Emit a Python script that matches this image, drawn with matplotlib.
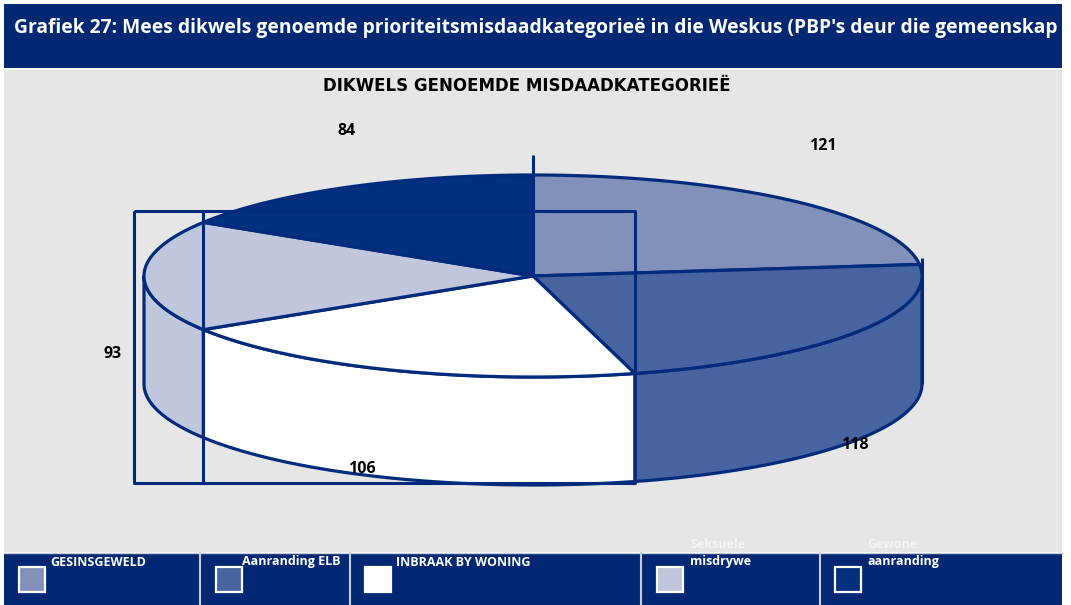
import numpy as np
import matplotlib
matplotlib.use("Agg")
import matplotlib.pyplot as plt
from matplotlib.patches import Polygon, Rectangle

# ---------------- data ----------------
categories = ["GESINSGEWELD", "Aanranding ELB", "INBRAAK BY WONING",
              "Seksuele misdrywe", "Gewone aanranding"]
values = [121, 118, 106, 93, 84]
legend_lines = [("", "GESINSGEWELD"), ("", "Aanranding ELB"),
                ("", "INBRAAK BY WONING"), ("Seksuele", "misdrywe"),
                ("Gewone", "aanranding")]
title = "DIKWELS GENOEMDE MISDAADKATEGORIEË"
header = ("Grafiek 27: Mees dikwels genoemde prioriteitsmisdaadkategorieë in die "
          "Weskus (PBP's deur die gemeenskap")

# ---------------- style ----------------
colors = ["#8191BA", "#4764A0", "#FFFFFF", "#C0C6DC", "#00307E"]
navy = "#022874"
edge = "#002B7C"
gray = "#E6E6E6"
FONT = ["Open Sans", "DejaVu Sans"]

W, H = 1071, 605
fig = plt.figure(figsize=(W / 100, H / 100), dpi=100)
fig.patch.set_facecolor("white")
ax = fig.add_axes([0, 0, 1, 1])
ax.set_xlim(0, W)
ax.set_ylim(H, 0)
ax.axis("off")

# panels
ax.add_patch(Rectangle((4, 4), 1058, 64, facecolor=navy, edgecolor="none", zorder=0))
ax.add_patch(Rectangle((4, 70), 1058, 482, facecolor=gray, edgecolor="none", zorder=0))
ax.add_patch(Rectangle((4, 553), 1058, 60, facecolor=navy, edgecolor="none", zorder=0))
ax.text(14, 28, header, color="white", fontsize=13.85, fontweight="bold",
        family=FONT, va="center", ha="left", zorder=2)

ax.text(527, 86, title, color="black", fontsize=12, fontweight="bold",
        family=["DejaVu Sans"], ha="center", va="center")

# ---------------- 3D pie ----------------
cx, cy, rx, ry, depth = 533, 276, 389, 101, 108
total = float(sum(values))
bounds = 90 - np.concatenate([[0], np.cumsum(values)]) / total * 360.0


def pt(a_deg, dz=0.0):
    a = np.radians(a_deg)
    return cx + rx * np.cos(a), cy - ry * np.sin(a) + dz


lw = 2.3
# front walls
for i in range(len(values)):
    hi, lo = bounds[i], bounds[i + 1]
    for k in (-1, 0, 1):
        f_lo, f_hi = -180 + 360 * k, 360 * k
        a0, a1 = max(lo, f_lo), min(hi, f_hi)
        if a1 - a0 <= 0.01:
            continue
        ts = np.linspace(a1, a0, 120)
        xt, yt = pt(ts)
        xb, yb = pt(ts[::-1], depth)
        poly = np.column_stack([np.concatenate([xt, xb]), np.concatenate([yt, yb])])
        ax.add_patch(Polygon(poly, closed=True, facecolor=colors[i], edgecolor=edge,
                             lw=lw, joinstyle="round", zorder=3))

# top faces
for i in range(len(values)):
    hi, lo = bounds[i], bounds[i + 1]
    ts = np.linspace(hi, lo, 200)
    xs, ys = pt(ts)
    poly = np.column_stack([np.concatenate([[cx], xs]), np.concatenate([[cy], ys])])
    ax.add_patch(Polygon(poly, closed=True, facecolor=colors[i], edgecolor=edge,
                         lw=lw, joinstyle="round", zorder=4))

# stray frame lines of the original rendering
xb23, _ = pt(bounds[2])
xb34, _ = pt(bounds[3])
xl, _ = pt(180)
xr, yr = pt(0)
art = dict(color=edge, lw=2.2, zorder=5, solid_capstyle="butt")
ax.plot([xl - 10, xb23, xb23, xl - 10, xl - 10], [211, 211, 483, 483, 211], **art)
ax.plot([xb34, xb34], [211, 483], **art)
ax.plot([cx, cx], [cy - ry - 20, cy], **art)
ax.plot([xr, xr], [yr - 18, yr + depth], **art)

# value labels
label_pos = [(823, 146), (855, 445), (362, 469), (113, 354), (347, 131)]
for v, (lx, ly) in zip(values, label_pos):
    ax.text(lx, ly, f"{v}", fontsize=11.5, fontweight="bold", family=FONT,
            color="black", ha="center", va="center", zorder=6)

# ---------------- legend ----------------
seps = [200, 350, 641, 820]
for sx in seps:
    ax.plot([sx, sx], [553, 605], color="#C9CDDA", lw=1.5, zorder=1)
ax.plot([4, 1062], [552.5, 552.5], color="#C9CDDA", lw=1.0, zorder=1)

box_x = [19, 216, 365, 657, 835]
text_x = [50, 242, 396, 690, 867]
for i, (bx, tx) in enumerate(zip(box_x, text_x)):
    ax.add_patch(Rectangle((bx, 567), 26, 25, facecolor=colors[i], edgecolor="white",
                           lw=1.6, zorder=2))
    top, bottom = legend_lines[i]
    if top:
        ax.text(tx, 545, top, color="#F4F4F4", fontsize=9, fontweight="bold",
                family=FONT, ha="left", va="center", zorder=2)
    ax.text(tx, 562, bottom, color="white", fontsize=9, fontweight="bold",
            family=FONT, ha="left", va="center", zorder=2)

fig.savefig("out.png", dpi=100)
